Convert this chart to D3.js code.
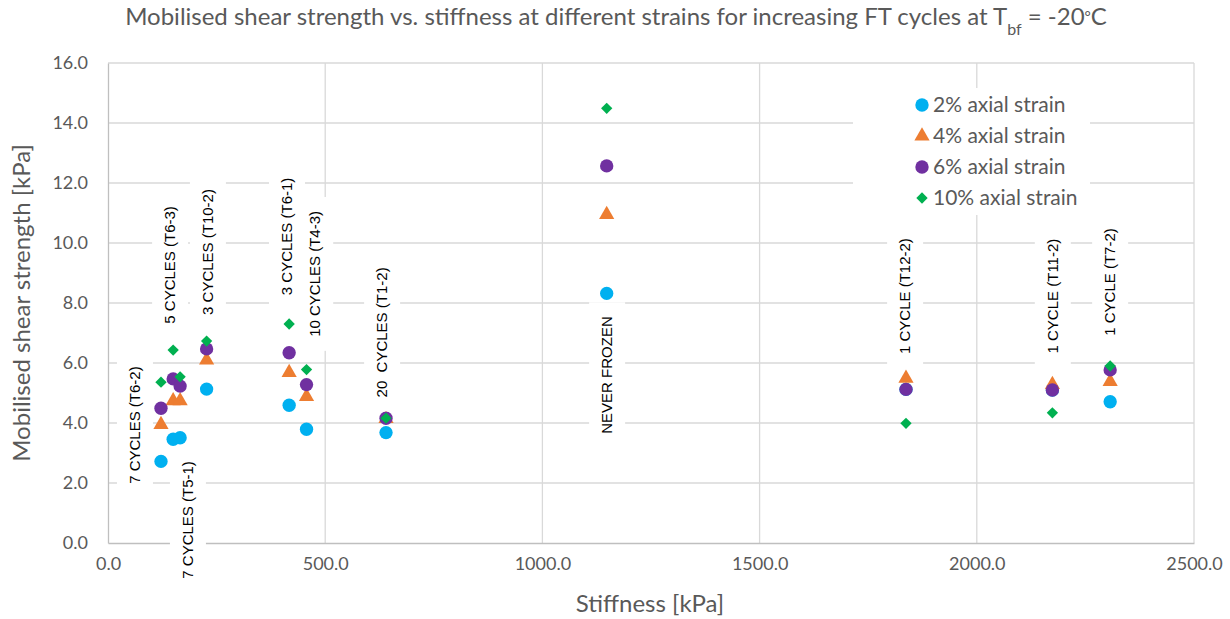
<!DOCTYPE html>
<html>
<head>
<meta charset="utf-8">
<script src="https://cdn.jsdelivr.net/npm/d3@7"></script>
<style>
    body { margin: 0; background: #fff; }
    svg { display: block; }
</style>
</head>
<body>
<svg id="chart" width="1230" height="619"></svg>
<script>
// ============================================
// Mobilised shear strength vs stiffness - scatter
// ============================================

// one entry per specimen
const samples = ['T6-2', 'T6-3', 'T5-1', 'T10-2', 'T6-1', 'T4-3', 'T1-2', 'NF', 'T12-2', 'T11-2', 'T7-2'];
const stiffness = [122, 150, 166, 227, 417, 457, 640, 1148, 1837, 2174, 2307];

// mobilised shear strength [kPa] at each axial strain
const strain2 = [2.72, 3.46, 3.51, 5.13, 4.59, 3.79, 3.68, 8.32, 5.12, 5.10, 4.71];
const strain4 = [3.95, 4.74, 4.74, 6.10, 5.68, 4.88, 4.15, 10.95, 5.49, 5.28, 5.38];
const strain6 = [4.49, 5.47, 5.23, 6.47, 6.34, 5.28, 4.16, 12.57, 5.12, 5.10, 5.77];
const strain10 = [5.36, 6.43, 5.54, 6.73, 7.30, 5.78, 4.16, 14.49, 3.99, 4.34, 5.90];

// data label text and anchors (in axis units)
const labelText = ['7 CYCLES (T6-2)', '5 CYCLES (T6-3)', '7 CYCLES (T5-1)', '3 CYCLES (T10-2)',
    '3 CYCLES (T6-1)', '10 CYCLES (T4-3)', '20  CYCLES (T1-2)', 'NEVER FROZEN',
    '1 CYCLE (T12-2)', '1 CYCLE (T11-2)', '1 CYCLE (T7-2)'];
const labelX = [62, 143, 184, 230, 412, 477, 631, 1149, 1835, 2175, 2307];
const labelY = [3.93, 9.27, 0.77, 9.7, 10.22, 8.97, 7.02, 5.6, 8.23, 8.23, 8.7];

const seriesNames = ['2% axial strain', '4% axial strain', '6% axial strain', '10% axial strain'];
const seriesValues = [strain2, strain4, strain6, strain10];
const seriesColors = ['#00b0f0', '#ed7d31', '#7030a0', '#00b050'];
const seriesSymbols = [d3.symbolCircle, d3.symbolTriangle, d3.symbolCircle, d3.symbolSquare];
const seriesRotate = [0, 0, 0, 45];
const symbolSizes = [140, 100, 140, 64];

const xTicks = [0, 500, 1000, 1500, 2000, 2500];
const yTicks = [0, 2, 4, 6, 8, 10, 12, 14, 16];

const FONT = "Lato, 'Open Sans', sans-serif";
const GREY = '#595959';

const svg = d3.select('#chart');

const margin = { left: 108, right: 36, top: 63, bottom: 76 };
const width = 1230, height = 619;

const x = d3.scaleLinear().domain([0, 2500]).range([margin.left, width - margin.right]);
const y = d3.scaleLinear().domain([0, 16]).range([height - margin.bottom, margin.top]);

// Gridlines
svg.append('g')
    .selectAll('line')
    .data(yTicks.slice(1))
    .join('line')
    .attr('x1', x(0)).attr('x2', x(2500))
    .attr('y1', d => y(d)).attr('y2', d => y(d))
    .attr('stroke', '#d9d9d9').attr('stroke-width', 1.3);

svg.append('g')
    .selectAll('line')
    .data(xTicks.slice(1))
    .join('line')
    .attr('x1', d => x(d)).attr('x2', d => x(d))
    .attr('y1', y(0)).attr('y2', y(16))
    .attr('stroke', '#d9d9d9').attr('stroke-width', 1.3);

// Axes
const xAxis = svg.append('g')
    .attr('transform', `translate(0,${y(0)})`)
    .call(d3.axisBottom(x).tickValues(xTicks).tickSize(0).tickPadding(14).tickFormat(d3.format('.1f')));
const yAxis = svg.append('g')
    .attr('transform', `translate(${x(0)},0)`)
    .call(d3.axisLeft(y).tickValues(yTicks).tickSize(0).tickPadding(20).tickFormat(d3.format('.1f')));

[xAxis, yAxis].forEach(a => {
    a.select('.domain').attr('stroke', '#bfbfbf').attr('stroke-width', 1.3);
    a.selectAll('text')
        .attr('fill', GREY)
        .style('font-family', FONT)
        .style('font-size', '18px');
});

// Points
seriesValues.forEach((vals, i) => {
    svg.append('g')
        .selectAll('path')
        .data(vals.map((v, j) => ({ sx: stiffness[j], v })))
        .join('path')
        .attr('d', d3.symbol().type(seriesSymbols[i]).size(symbolSizes[i]))
        .attr('transform', d => `translate(${x(d.sx)},${y(d.v)}) rotate(${seriesRotate[i]})`)
        .attr('fill', seriesColors[i]);
});

// Data labels (vertical, white box behind)
const labels = svg.append('g')
    .selectAll('g')
    .data(samples.map((s, i) => ({ id: s, text: labelText[i], lx: labelX[i], ly: labelY[i] })))
    .join('g')
    .attr('transform', d => `translate(${x(d.lx)},${y(d.ly)}) rotate(-90)`);

labels.append('rect').attr('fill', '#fff');
labels.append('text')
    .text(d => d.text)
    .attr('text-anchor', 'middle')
    .attr('dy', '0.35em')
    .attr('fill', '#000')
    .style('font-family', "'Liberation Sans', Arial, sans-serif")
    .style('font-size', '15px')
    .style('white-space', 'pre');

labels.each(function () {
    const g = d3.select(this);
    const w = g.select('text').node().getComputedTextLength();
    g.select('rect')
        .attr('x', -w / 2 - 14).attr('y', -18)
        .attr('width', w + 28).attr('height', 36);
});

// Legend
const legend = svg.append('g');
legend.append('rect')
    .attr('x', 853).attr('y', 88)
    .attr('width', 237).attr('height', 127)
    .attr('fill', '#fff');

const items = legend.selectAll('g')
    .data(seriesNames)
    .join('g')
    .attr('transform', (d, i) => `translate(922,${105 + i * 31})`);

items.append('path')
    .attr('d', (d, i) => d3.symbol().type(seriesSymbols[i]).size(symbolSizes[i])())
    .attr('transform', (d, i) => `rotate(${seriesRotate[i]})`)
    .attr('fill', (d, i) => seriesColors[i]);

items.append('text')
    .text(d => d)
    .attr('x', 11)
    .attr('dy', '0.35em')
    .attr('fill', GREY)
    .style('font-family', FONT)
    .style('font-size', '21px');

// Titles
const title = svg.append('text')
    .attr('x', 616).attr('y', 25)
    .attr('text-anchor', 'middle')
    .attr('fill', GREY)
    .style('font-family', FONT)
    .style('font-size', '24px');
title.append('tspan').text('Mobilised shear strength vs. stiffness at different strains for increasing FT cycles at T');
title.append('tspan').text('bf').attr('baseline-shift', 'sub').style('font-size', '16px');
title.append('tspan').text(' = -20');
title.append('tspan').text('°').attr('baseline-shift', '20%').style('font-size', '15px');
title.append('tspan').text('C');

svg.append('text')
    .attr('x', 650).attr('y', 612)
    .attr('text-anchor', 'middle')
    .attr('fill', GREY)
    .style('font-family', FONT)
    .style('font-size', '24px')
    .text('Stiffness [kPa]');

svg.append('text')
    .attr('transform', `translate(30,${(y(0) + y(16)) / 2}) rotate(-90)`)
    .attr('text-anchor', 'middle')
    .attr('fill', GREY)
    .style('font-family', FONT)
    .style('font-size', '24px')
    .text('Mobilised shear strength [kPa]');
</script>
</body>
</html>
